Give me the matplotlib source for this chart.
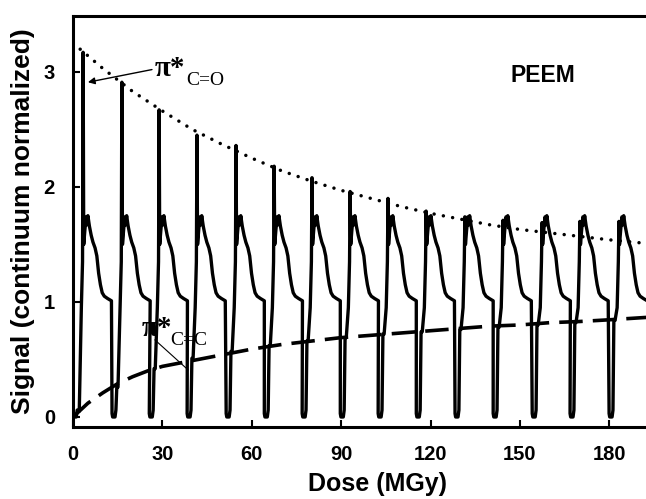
import matplotlib
matplotlib.use("Agg")
import matplotlib.pyplot as plt
import numpy as np

plt.rcParams["font.family"] = ["Liberation Sans", "DejaVu Sans"]

# dose (MGy) of each C=O spike
spike_dose = [3.4, 16.4, 28.9, 41.6, 54.7, 67.5, 80.2, 93.0, 105.7, 118.5,
              131.5, 144.3, 157.4, 170.1, 183.2]
# pi*(C=O) peak height of each spectrum
co_peak = [3.17, 2.91, 2.67, 2.45, 2.36, 2.18, 2.08, 1.96, 1.90, 1.79,
           1.74, 1.71, 1.69, 1.70, 1.70]
# pi*(C=C) peak height of each spectrum
cc_peak = [0.05, 0.26, 0.42, 0.51, 0.57, 0.62, 0.66, 0.69, 0.72, 0.74,
           0.76, 0.78, 0.80, 0.82, 0.84]

# one C 1s spectrum in dose offset from its start (MGy); nan = peak slots
shape_offset = [0.00, 0.20, 1.00, 1.30, 1.60, 2.00, 2.70, 3.10, 3.30, 3.50,
                3.90, 4.30, 4.60, 4.90, 5.40, 6.00, 6.60, 7.30, 7.90, 8.50,
                9.10, 9.70, 10.4, 11.5, 12.8]
shape_value = [0.03, 0.00, 0.00, 0.06, np.nan, np.nan, 0.95, 1.35, np.nan, 1.50,
               1.63, 1.74, 1.67, 1.75, 1.66, 1.58, 1.52, 1.47, 1.40, 1.25,
               1.15, 1.08, 1.05, 1.03, 1.01]
cc_slots = [4, 5]
co_slot = 8
spike_offset = 3.30

# fitted trends
fit_dose_co = [0, 10, 20, 30, 40, 50, 60, 70, 80, 90, 100, 110, 120, 130,
               140, 150, 160, 170, 180, 192, 205]
fit_co = [3.25, 3.03, 2.83, 2.66, 2.50, 2.37, 2.25, 2.14, 2.05, 1.97, 1.90,
          1.83, 1.77, 1.72, 1.67, 1.63, 1.60, 1.57, 1.54, 1.51, 1.49]
fit_dose_cc = [0, 5, 10, 15, 20, 25, 30, 40, 50, 60, 70, 80, 90, 100, 110,
               120, 130, 140, 150, 160, 170, 180, 192, 205]
fit_cc = [0.0, 0.12, 0.21, 0.29, 0.35, 0.40, 0.44, 0.49, 0.54, 0.59, 0.63,
          0.66, 0.69, 0.71, 0.73, 0.75, 0.77, 0.79, 0.80, 0.82, 0.83, 0.845,
          0.865, 0.88]

x_ticks = [0, 30, 60, 90, 120, 150, 180]
y_ticks = [0, 1, 2, 3]

# assemble the trace spectrum by spectrum
xs, ys = [], []
for d, o, c in zip(spike_dose, co_peak, cc_peak):
    vals = list(shape_value)
    for i in cc_slots:
        vals[i] = c
    vals[co_slot] = o
    start = d - spike_offset
    xs.extend(start + off for off in shape_offset)
    ys.extend(vals)

fig = plt.figure(figsize=(6.46, 4.99), dpi=100)
ax = fig.add_axes([73 / 646, 72 / 499, 610 / 646, 411.5 / 499])

ax.plot(xs, ys, color="black", lw=2.4, solid_joinstyle="round")
ax.plot(fit_dose_co, fit_co, color="black", lw=2.5,
        linestyle=(0, (0.01, 2.7)), dash_capstyle="round")
ax.plot(fit_dose_cc, fit_cc, color="black", lw=2.6,
        linestyle=(0, (6.5, 2.8)))

ax.set_xlim(0, 204.7)
ax.set_ylim(-0.087, 3.49)
ax.set_xticks(x_ticks)
ax.set_yticks(y_ticks)
ax.tick_params(direction="in", length=5, width=1.5, labelsize=14.5, pad=13)
ax.tick_params(axis="y", pad=13)
for lab in ax.get_xticklabels() + ax.get_yticklabels():
    lab.set_fontweight("bold")
for sp in ax.spines.values():
    sp.set_linewidth(2.2)

ax.set_xlabel("Dose (MGy)", fontsize=18, fontweight="bold", labelpad=6)
ax.set_ylabel("Signal (continuum normalized)", fontsize=19, fontweight="bold",
              labelpad=6)

serif = ["Liberation Serif", "DejaVu Serif"]
ax.text(27.5, 2.96, "π*", fontsize=21, fontweight="bold", family=serif)
ax.text(37.9, 2.89, "C=O", fontsize=14, family=serif)
ax.annotate("", xy=(5.0, 2.91), xytext=(26.5, 3.02),
            arrowprops=dict(arrowstyle="-|>", color="black", lw=1.0,
                            mutation_scale=10, shrinkA=0, shrinkB=0))
ax.text(23.2, 0.70, "π*", fontsize=21, fontweight="bold", family=serif)
ax.text(32.5, 0.63, "C=C", fontsize=14, family=serif)
ax.plot([27.5, 38.6], [0.67, 0.41], color="black", lw=0.8)

ax.text(157.7, 2.91, "PEEM", fontsize=16.5, fontweight="bold", ha="center",
        va="baseline")

fig.savefig("out.png", dpi=100)
